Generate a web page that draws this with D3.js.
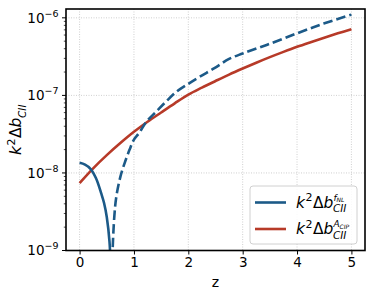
<!DOCTYPE html>
<html><head><meta charset="utf-8">
<script src="https://cdn.jsdelivr.net/npm/d3@7"></script>
<style>body{margin:0;background:#fff}svg{display:block}text{font-family:"DejaVu Sans",sans-serif}</style>
</head><body>
<svg id="c" width="374" height="295"></svg>
<script>
// ---- data ----
const redZ = [0,0.25,0.5,0.75,1,1.25,1.5,1.75,2,2.25,2.5,2.75,3,3.25,3.5,3.75,4,4.25,4.5,4.75,5];
const redV = [7.41e-9,1.148e-8,1.698e-8,2.427e-8,3.388e-8,4.571e-8,6.026e-8,7.907e-8,1.023e-7,1.259e-7,1.531e-7,1.854e-7,2.218e-7,2.636e-7,3.112e-7,3.639e-7,4.227e-7,4.853e-7,5.546e-7,6.31e-7,7.129e-7];
const bluePosZ = [0,0.1,0.2,0.3,0.4,0.45,0.5,0.55,0.58,0.59];
const bluePosV = [1.35e-8,1.28e-8,1.13e-8,8.6e-9,5.4e-9,4.1e-9,2.7e-9,1.3e-9,4e-10,1e-10];
const blueNegZ = [0.59,0.6,0.61,0.64,0.675,0.75,0.83,0.92,1.0,1.1,1.23,1.41,1.59,1.78,2.0,2.21,2.48,2.75,3.0,3.44,4.0,4.49,5.0];
const blueNegV = [1e-10,5.6e-10,1.12e-9,2.82e-9,4.9e-9,8.9e-9,1.35e-8,2.0e-8,2.69e-8,3.31e-8,4.57e-8,6.17e-8,8.32e-8,1.11e-7,1.41e-7,1.74e-7,2.24e-7,2.95e-7,3.47e-7,4.47e-7,6.31e-7,8.43e-7,1.10e-6];
const xTicks = [0,1,2,3,4,5];
const yTickExps = [-9,-8,-7,-6];

const blue = "#1c5a88", red = "#b73a28";
const L=66, R=365, T=9, B=250.5;
const svg = d3.select("#c");
const x = d3.scaleLinear().domain([-0.25,5.25]).range([L,R]);
const y = d3.scaleLog().domain([1e-9,1.3e-6]).range([B,T]);

// grid
const g = svg.append("g");
xTicks.forEach(t=>g.append("line").attr("x1",x(t)).attr("x2",x(t)).attr("y1",T).attr("y2",B)
  .attr("stroke","#c4c4c4").attr("stroke-width",0.8).attr("stroke-dasharray","1,1.5"));
yTickExps.forEach(e=>g.append("line").attr("x1",L).attr("x2",R).attr("y1",y(Math.pow(10,e))).attr("y2",y(Math.pow(10,e)))
  .attr("stroke","#c4c4c4").attr("stroke-width",0.8).attr("stroke-dasharray","1,1.5"));

// clip
svg.append("clipPath").attr("id","clip").append("rect").attr("x",L).attr("y",T).attr("width",R-L).attr("height",B-T);
const line = d3.line().x(d=>x(d[0])).y(d=>y(d[1])).curve(d3.curveCatmullRom.alpha(0.5));
const plot = svg.append("g").attr("clip-path","url(#clip)");
plot.append("path").attr("d",line(redZ.map((z,i)=>[z,redV[i]]))).attr("fill","none").attr("stroke",red).attr("stroke-width",2.6);
plot.append("path").attr("d",line(bluePosZ.map((z,i)=>[z,bluePosV[i]]))).attr("fill","none").attr("stroke",blue).attr("stroke-width",2.6);
plot.append("path").attr("d",line(blueNegZ.map((z,i)=>[z,blueNegV[i]]))).attr("fill","none").attr("stroke",blue).attr("stroke-width",2.6).attr("stroke-dasharray","9.5,4");

// axes
const xa = svg.append("g").attr("transform",`translate(0,${B})`)
  .call(d3.axisBottom(x).tickValues(xTicks).tickSize(4).tickPadding(3).tickFormat(d3.format("d")));
xa.select(".domain").remove();
xa.selectAll("text").attr("font-size",13.5).attr("fill","#000").attr("font-family","DejaVu Sans");
xa.selectAll("line").attr("stroke","#000").attr("stroke-width",1);

// y ticks major + minor
const yg = svg.append("g");
const allT = [];
for(let e=-9;e<=-6;e++) for(let m=1;m<10;m++){const v=m*Math.pow(10,e); if(v>=1e-9 && v<=1.3e-6) allT.push([v,m===1]);}
allT.forEach(([v,maj])=>yg.append("line").attr("x1",L).attr("x2",L-(maj?4:2.2)).attr("y1",y(v)).attr("y2",y(v))
  .attr("stroke","#000").attr("stroke-width",maj?1:0.7));
yTickExps.forEach(e=>{
  const t = yg.append("text").attr("x",L-7.5).attr("y",y(Math.pow(10,e))).attr("dy","0.36em")
    .attr("text-anchor","end").attr("font-size",13.5).attr("fill","#000");
  t.append("tspan").text("10");
  t.append("tspan").attr("dy",-6).attr("font-size",9.5).text("\u2212"+Math.abs(e));
});

// frame
svg.append("rect").attr("x",L).attr("y",T).attr("width",R-L).attr("height",B-T).attr("fill","none").attr("stroke","#000").attr("stroke-width",1.6);

// axis labels
svg.append("text").attr("x",(L+R)/2).attr("y",287).attr("text-anchor","middle").attr("font-size",14).text("z");

function mathLabel(parent){ // "k²Δb"
  const t = parent.append("text").attr("font-size",15.5);
  t.append("tspan").attr("font-style","italic").text("k");
  t.append("tspan").attr("font-size",11).attr("dy",-6.5).attr("dx",0.5).text("2");
  t.append("tspan").attr("dy",6.5).attr("dx",0.5).text("\u0394");
  t.append("tspan").attr("font-style","italic").text("b");
  return t;
}
// y label
const yl = svg.append("g");
const ylt = mathLabel(yl);
const yw = ylt.node().getComputedTextLength();
yl.append("text").attr("x",yw+0.5).attr("y",4.5).attr("font-size",10.5).attr("font-style","italic").text("CII");
const ybb = yl.node().getBBox();
yl.attr("transform",`translate(${21},${(T+B)/2}) rotate(-90) translate(${-ybb.width/2},0)`);

// legend
const lg = svg.append("g");
lg.append("rect").attr("x",250).attr("y",186).attr("width",107).attr("height",58).attr("rx",3)
  .attr("fill","#fff").attr("fill-opacity",0.85).attr("stroke","#d0d0d0").attr("stroke-width",1);
const items = [[blue,"f","NL",202.5],[red,"A","CIP",229]];
items.forEach(([c,a,b,yy])=>{
  lg.append("line").attr("x1",255).attr("x2",286).attr("y1",yy).attr("y2",yy).attr("stroke",c).attr("stroke-width",2.6);
  const gg = lg.append("g").attr("transform",`translate(296,${yy+5})`);
  const t = mathLabel(gg);
  const w = t.node().getComputedTextLength();
  gg.append("text").attr("x",w+0.5).attr("y",4.5).attr("font-size",10.5).attr("font-style","italic").text("CII");
  const s = gg.append("text").attr("x",w+1).attr("y",-7).attr("font-size",9).attr("font-style","italic");
  s.append("tspan").text(a);
  s.append("tspan").attr("font-size",6).attr("dy",1.5).text(b);
});
</script>
</body></html>
